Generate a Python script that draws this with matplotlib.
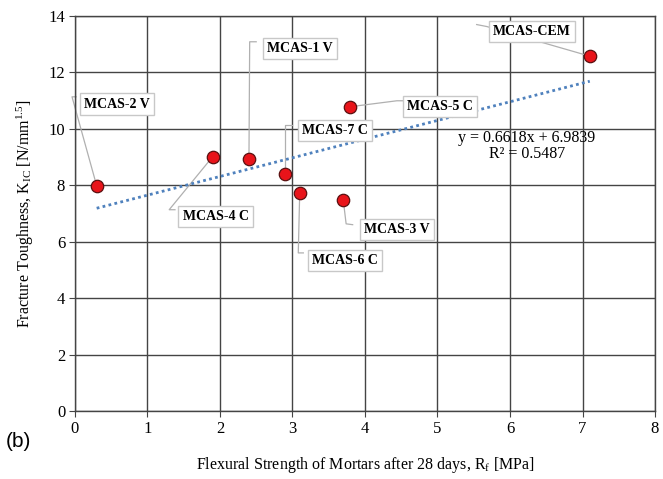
import numpy as np
import matplotlib.pyplot as plt

# flexural strength (MPa) and fracture toughness for each mortar
names = ["MCAS-2 V", "MCAS-4 C", "MCAS-1 V", "MCAS-7 C",
         "MCAS-6 C", "MCAS-3 V", "MCAS-5 C", "MCAS-CEM"]
rf = [0.3, 1.9, 2.4, 2.9, 3.1, 3.7, 3.8, 7.1]
kic = [7.98, 9.01, 8.94, 8.40, 7.73, 7.48, 10.78, 12.57]

# label box centres and leader line bends (data units)
label_pos = [(0.58, 10.87), (1.94, 6.88), (3.10, 12.85), (3.59, 9.93),
             (3.72, 5.32), (4.44, 6.42), (5.03, 10.78), (6.30, 13.44)]
leader_pts = [[(-0.04, 11.13), (0.02, 11.13)],
              [(1.30, 7.13), (1.38, 7.13)],
              [(2.41, 13.08), (2.50, 13.08)],
              [(2.90, 10.14), (2.99, 10.14)],
              [(3.08, 5.60), (3.15, 5.60)],
              [(3.74, 6.63), (3.83, 6.60)],
              [(4.44, 10.99), (4.52, 10.99)],
              [(5.68, 13.62), (5.54, 13.69)]]

# linear trendline from the chart
slope, icept = 0.6618, 6.9839

serif = "Liberation Serif"
plt.rcParams["mathtext.fontset"] = "custom"
plt.rcParams["mathtext.rm"] = serif
plt.rcParams["mathtext.it"] = serif + ":italic"

fig = plt.figure(figsize=(6.63, 4.79), dpi=100)
ax = fig.add_axes([0.113, 0.142, 0.875, 0.825])

ax.set_xlim(0, 8)
ax.set_ylim(0, 14)
ax.set_xticks(range(0, 9))
ax.set_yticks(range(0, 15, 2))
ax.grid(True, color="#444444", linewidth=1.0)
ax.set_axisbelow(True)
for s in ax.spines.values():
    s.set_color("#444444")
    s.set_linewidth(1.0)
ax.tick_params(length=4, color="#444444", labelsize=12, pad=3)
for lab in ax.get_xticklabels() + ax.get_yticklabels():
    lab.set_fontfamily(serif)

# leader lines
for (x, y), pts in zip(zip(rf, kic), leader_pts):
    xs = [x] + [p[0] for p in pts]
    ys = [y] + [p[1] for p in pts]
    ax.plot(xs, ys, color="#b0b0b0", linewidth=0.9, clip_on=False, zorder=2)

# trendline
tx = np.array([min(rf), max(rf)])
ax.plot(tx, slope * tx + icept, linestyle=(0, (1, 1.2)), color="#4f81bd",
        linewidth=2.0, zorder=3)

ax.scatter(rf, kic, s=80, color="#e8141a", edgecolors="#5a1010",
           linewidths=0.9, zorder=5)

for name, (lx, ly) in zip(names, label_pos):
    ax.text(lx, ly, name, ha="center", va="center", fontsize=10,
            fontweight="bold", family=serif, zorder=6,
            bbox=dict(boxstyle="square,pad=0.3", facecolor="white",
                      edgecolor="#c8c8c8", linewidth=1.0))

ax.text(6.23, 9.40, "y = 0.6618x + 6.9839\nR² = 0.5487", ha="center",
        va="center", multialignment="center", fontsize=11.5, family=serif,
        linespacing=1.0, zorder=6)

ax.set_xlabel("Flexural Strength of Mortars after 28 days, R$_\\mathrm{f}$ [MPa]",
              fontsize=11.5, family=serif, labelpad=13)
ax.set_ylabel("Fracture Toughness, K$_\\mathrm{IC}$ [N/mm$^\\mathrm{1.5}$]",
              fontsize=11.5, family=serif, labelpad=9)

fig.text(0.008, 0.066, "(b)", fontsize=15, family="Liberation Sans")

fig.savefig("out.png", dpi=100)
